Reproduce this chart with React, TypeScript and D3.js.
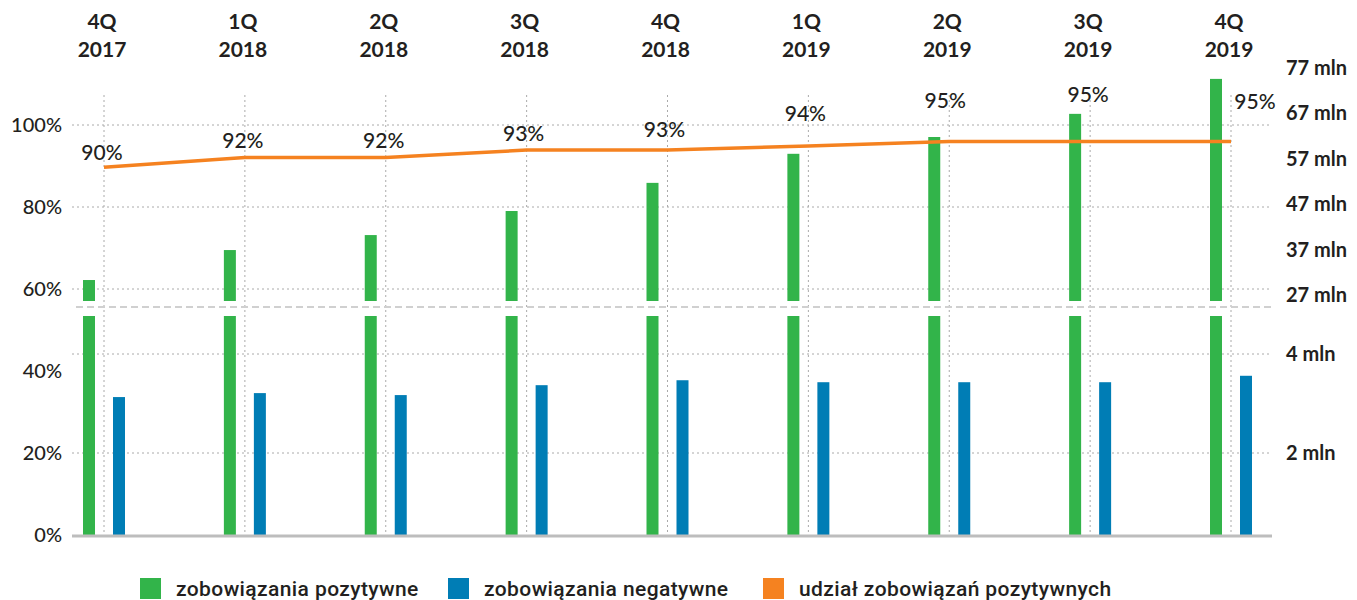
import React from 'react'
import * as d3 from 'd3'

const quarters = ['4Q', '1Q', '2Q', '3Q', '4Q', '1Q', '2Q', '3Q', '4Q']
const years = ['2017', '2018', '2018', '2018', '2018', '2019', '2019', '2019', '2019']
// mln
const positive = [30.3, 36.9, 40.2, 45.5, 51.7, 58.1, 61.8, 66.9, 74.6]
const negative = [3.13, 3.21, 3.17, 3.37, 3.47, 3.43, 3.43, 3.43, 3.56]
// %
const share = [89.7, 92.1, 92.1, 93.9, 93.9, 94.9, 96.0, 96.0, 96.0]
const shareLabels = ['90%', '92%', '92%', '93%', '93%', '94%', '95%', '95%', '95%']

const pctTicks = [0, 20, 40, 60, 80, 100]
const upperTicks = [27, 37, 47, 57, 67, 77]
const lowerTicks = [2, 4]

const legendItems = [
	{ label: 'zobowiązania pozytywne', color: '#32b44a' },
	{ label: 'zobowiązania negatywne', color: '#007db5' },
	{ label: 'udział zobowiązań pozytywnych', color: '#f58220' },
]

const GREEN = '#32b44a'
const BLUE = '#007db5'
const ORANGE = '#f58220'
const TEXT = '#231f20'
const FONT = 'Lato, sans-serif'

// label nudges so they sit clear of the bars, like the original
const labelShift = [
	[-2, -7], [-2, -9], [-2, -9], [-3, -9], [-3, -13], [-3, -25], [-4, -33], [-2, -39], [24, -32],
]

export default function App() {
	const idx = quarters.map((_, i) => i)
	const x = d3.scalePoint<number>().domain(idx).range([104, 1231])
	const yPct = d3.scaleLinear().domain([0, 100]).range([535, 125])
	const yUp = d3.scaleLinear().domain([27, 77]).range([295, 68])
	const yLow = d3.scaleLinear().domain([2, 4]).range([453, 354])

	const base = yPct(0)
	const breakY = 307
	const upperBottom = 301
	const lowerTop = 316
	const left = 72
	const right = 1272
	const barW = 12

	const line = d3
		.line<number>()
		.x((i) => x(i) as number)
		.y((i) => yPct(share[i]))

	const gridYs = [
		yPct(100),
		yPct(80),
		yPct(60),
		...lowerTicks.map((t) => yLow(t)),
	]

	const legendX = [140, 448, 763]

	return (
		<svg
			width={1357}
			height={600}
			style={{ position: 'absolute', left: 0, top: 0, background: '#fff' }}
			fontFamily={FONT}
		>
			{/* grid */}
			{gridYs.map((y, i) => (
				<line key={'h' + i} x1={left} x2={right} y1={y} y2={y} stroke="#aaa" strokeDasharray="2,3" />
			))}
			{idx.map((i) => (
				<line key={'v' + i} x1={x(i)} x2={x(i)} y1={95} y2={base} stroke="#aaa" strokeDasharray="2,3" />
			))}

			{/* axis break */}
			<line x1={76} x2={1275} y1={breakY} y2={breakY} stroke="#d0d0d0" strokeWidth={2} strokeDasharray="7,4" />

			{/* positive: upper segment */}
			{idx.map((i) => (
				<rect
					key={'pu' + i}
					x={(x(i) as number) - 21}
					y={yUp(positive[i])}
					width={barW}
					height={upperBottom - yUp(positive[i])}
					fill={GREEN}
				/>
			))}
			{/* positive: lower segment (cut at the break) */}
			{idx.map((i) => {
				const top = Math.max(yLow(positive[i]), lowerTop)
				return <rect key={'pl' + i} x={(x(i) as number) - 21} y={top} width={barW} height={base - top} fill={GREEN} />
			})}
			{/* negative */}
			{idx.map((i) => (
				<rect
					key={'n' + i}
					x={(x(i) as number) + 9}
					y={yLow(negative[i])}
					width={barW}
					height={base - yLow(negative[i])}
					fill={BLUE}
				/>
			))}

			{/* baseline */}
			<line x1={left} x2={right} y1={base + 1} y2={base + 1} stroke="#bdbdbd" strokeWidth={3} />

			{/* share line */}
			<path d={line(idx) || ''} fill="none" stroke={ORANGE} strokeWidth={3.5} />
			{idx.map((i) => (
				<text
					key={'sl' + i}
					x={(x(i) as number) + labelShift[i][0]}
					y={yPct(share[i]) + labelShift[i][1]}
					textAnchor="middle"
					fontSize={21}
					fontWeight={500}
					fill={TEXT}
				>
					{shareLabels[i]}
				</text>
			))}

			{/* category labels */}
			{idx.map((i) => (
				<text key={'c' + i} x={(x(i) as number) - 2} textAnchor="middle" fontSize={21} fontWeight={700} fill={TEXT}>
					<tspan x={(x(i) as number) - 2} y={29}>{quarters[i]}</tspan>
					<tspan x={(x(i) as number) - 2} y={57}>{years[i]}</tspan>
				</text>
			))}

			{/* left axis */}
			{pctTicks.map((t) => (
				<text key={'lp' + t} x={62} y={yPct(t) + 7} textAnchor="end" fontSize={20} fontWeight={500} fill={TEXT}>
					{t}%
				</text>
			))}

			{/* right axis */}
			{upperTicks.map((t) => (
				<text key={'ru' + t} x={1286} y={yUp(t) + 7} fontSize={20} fontWeight={700} fill={TEXT}>
					{t} mln
				</text>
			))}
			{lowerTicks.map((t) => (
				<text key={'rl' + t} x={1286} y={yLow(t) + 7} fontSize={20} fontWeight={700} fill={TEXT}>
					{t} mln
				</text>
			))}

			{/* legend */}
			{legendItems.map((d, i) => (
				<g key={'lg' + i} transform={`translate(${legendX[i]},0)`}>
					<rect x={0} y={578} width={21} height={21} fill={d.color} />
					<text
						x={36}
						y={596}
						fontSize={21}
						fontWeight={500}
						letterSpacing={0.4}
						fill={TEXT}
						fontFamily="Roboto, sans-serif"
					>
						{d.label}
					</text>
				</g>
			))}
		</svg>
	)
}
